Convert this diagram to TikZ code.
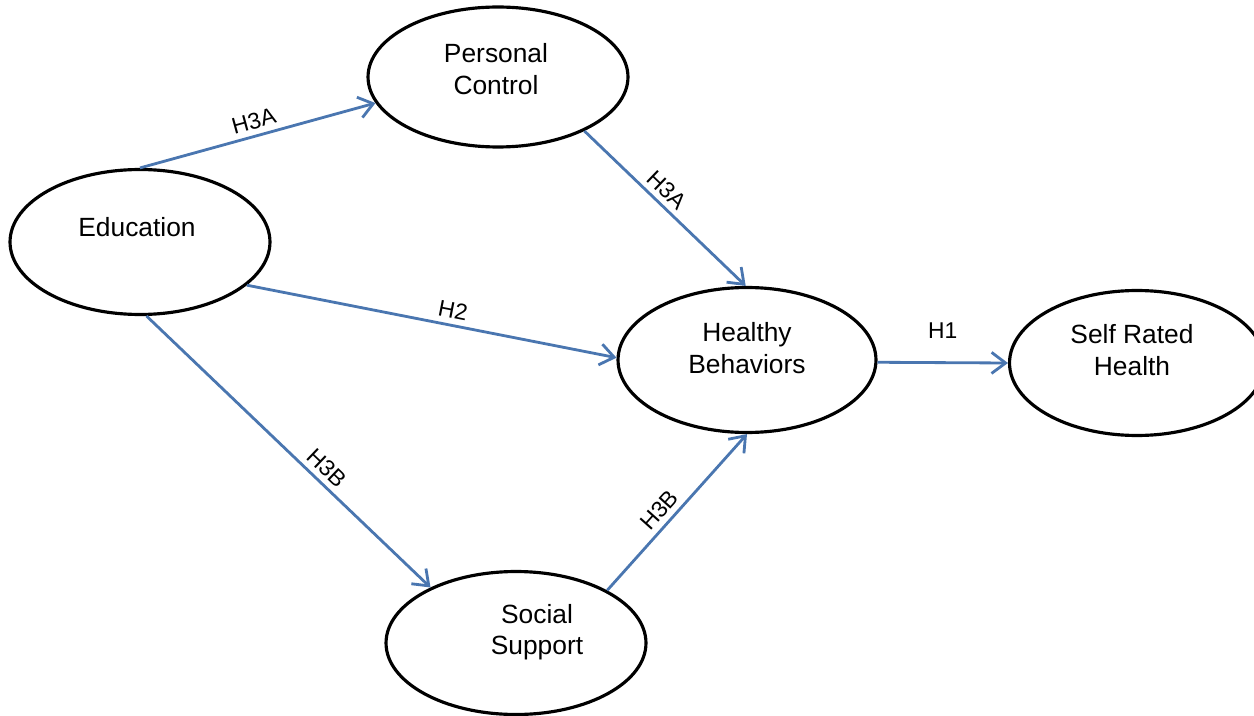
\documentclass[tikz,border=0pt]{standalone}
\usepackage{fontspec}
\setmainfont{Liberation Sans}
\usepackage{tikz}
\usetikzlibrary{shapes, arrows.meta, positioning}

\definecolor{pathblue}{RGB}{74,118,176}

\begin{document}
\begin{tikzpicture}[x=0.02cm, y=-0.02cm]
  % --- Styles ---
  \tikzset{
    construct/.style={ellipse, draw=black, line width=1.8pt, inner sep=0pt,
      minimum width=5.2cm, minimum height=2.9cm},
    construct text/.style={align=center, inner sep=0pt,
      font=\fontsize{15}{18}\selectfont},
    path arrow/.style={draw=pathblue, line width=1.6pt,
      -{Straight Barb[length=8pt, width=12pt, line width=1.6pt]}},
    path label/.style={font=\fontsize{13}{15}\selectfont, inner sep=3pt}
  }

  \useasboundingbox (0,0) rectangle (1254,716);

  % --- Constructs (ellipse and its text are placed apart) ---
  \node[construct] (edu) at (140,242) {};
  \node[construct text] (edu text) at (137,227) {Education};

  \node[construct, minimum height=2.8cm] (pc) at (498,77) {};
  \node[construct text] (pc text) at (496,69) {Personal\\Control};

  \node[construct, minimum width=5.16cm] (hb) at (747,360) {};
  \node[construct text] (hb text) at (747,348) {Healthy\\Behaviors};

  \node[construct, minimum width=5.1cm] (srh) at (1137,363) {};
  \node[construct text] (srh text) at (1132,350) {Self Rated\\Health};

  \node[construct, minimum height=2.86cm] (ss) at (516,643) {};
  \node[construct text] (ss text) at (537,632) {Social\\Support};

  % --- Hypothesised paths ---
  % H3A: through personal control
  \draw[path arrow] (edu.90) -- node[path label, sloped, above] {H3A} (pc.192);
  \draw[path arrow] (pc.-32) -- node[path label, sloped, above, pos=0.45] {H3A} (hb.91.5);

  % H2: direct path
  \draw[path arrow] (edu.-22.5) -- node[path label, sloped, above, pos=0.55] {H2} (hb.179);

  % H3B: through social support
  \draw[path arrow] (edu.-85) -- node[path label, sloped, above, pos=0.6] {H3B} (ss.147);
  \draw[path arrow] (ss.30) -- node[path label, sloped, above, pos=0.45] {H3B} (hb.-90);

  % H1: behaviours to health
  \draw[path arrow] (hb.-1) -- node[path label, above=10pt] {H1} (srh.180);

\end{tikzpicture}
\end{document}
